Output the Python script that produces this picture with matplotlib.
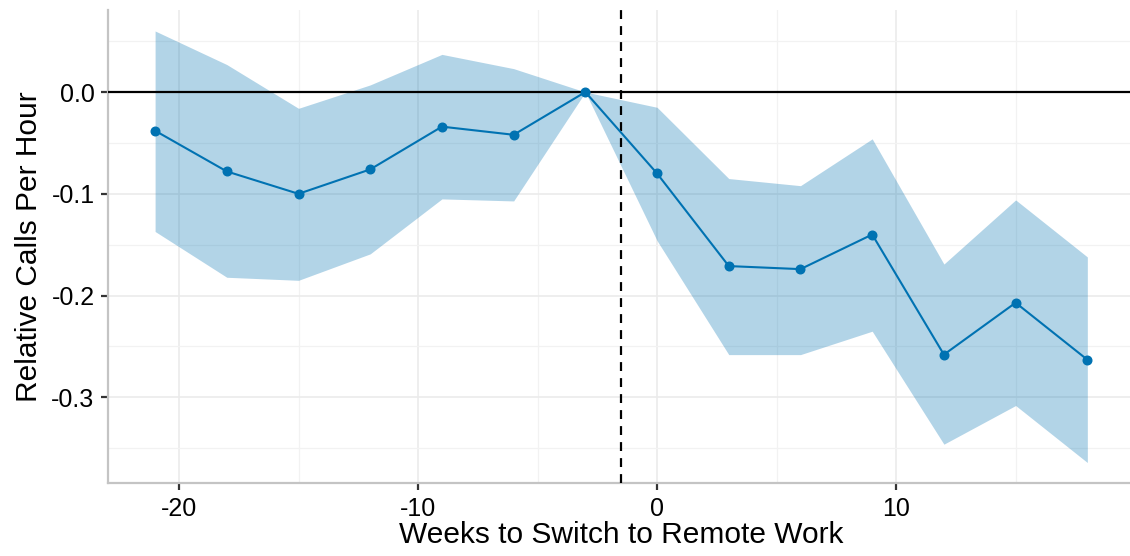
import matplotlib
matplotlib.use("Agg")
import matplotlib.pyplot as plt
from matplotlib.ticker import MultipleLocator

weeks = [-21, -18, -15, -12, -9, -6, -3, 0, 3, 6, 9, 12, 15, 18]
estimate = [-0.038, -0.078, -0.100, -0.076, -0.034, -0.042, 0.0,
            -0.080, -0.171, -0.174, -0.140, -0.258, -0.207, -0.263]
upper = [0.060, 0.027, -0.016, 0.007, 0.037, 0.023, 0.0,
         -0.015, -0.085, -0.092, -0.046, -0.169, -0.106, -0.162]
lower = [-0.137, -0.182, -0.185, -0.159, -0.105, -0.107, 0.0,
         -0.146, -0.258, -0.258, -0.235, -0.346, -0.308, -0.364]
switch_week = -1.5

plt.rcParams["font.family"] = ["Liberation Sans", "DejaVu Sans"]

blue = "#0072B2"
fig = plt.figure(figsize=(11.3, 5.56), dpi=100)
ax = fig.add_axes([0.096, 0.131, 0.9075, 0.851])

ax.fill_between(weeks, lower, upper, color=blue, alpha=0.3, linewidth=0, zorder=2)
ax.axhline(0, color="black", linewidth=1.6, zorder=3)
ax.axvline(switch_week, color="black", linewidth=1.6, linestyle=(0, (4, 3.2)), zorder=3)
ax.plot(weeks, estimate, color=blue, linewidth=1.5, marker="o", markersize=6.2, zorder=4)

ax.set_xlim(-22.95, 19.95)
ax.set_ylim(-0.3843, 0.0806)
ax.xaxis.set_major_locator(MultipleLocator(10))
ax.xaxis.set_minor_locator(MultipleLocator(5))
ax.yaxis.set_major_locator(MultipleLocator(0.1))
ax.yaxis.set_minor_locator(MultipleLocator(0.05))
ax.xaxis.set_major_formatter(lambda v, p: f"{v:.0f}".replace("\u2212", "-"))
ax.yaxis.set_major_formatter(lambda v, p: f"{v:.1f}".replace("\u2212", "-"))

ax.grid(which="major", color="#ebebeb", linewidth=1.2, zorder=0)
ax.grid(which="minor", color="#f2f2f2", linewidth=0.9, zorder=0)
ax.set_axisbelow(True)

for s in ["top", "right"]:
    ax.spines[s].set_visible(False)
for s in ["left", "bottom"]:
    ax.spines[s].set_color("#c4c4c4")
    ax.spines[s].set_linewidth(1.6)

ax.tick_params(which="major", length=5, width=1.6, color="#333333",
               labelsize=18, labelcolor="black", pad=5)
ax.tick_params(which="minor", length=0)

ax.set_xlabel("Weeks to Switch to Remote Work", fontsize=21.5, labelpad=0)
ax.set_ylabel("Relative Calls Per Hour", fontsize=21.5, labelpad=6)

fig.savefig("out.png", dpi=100)
